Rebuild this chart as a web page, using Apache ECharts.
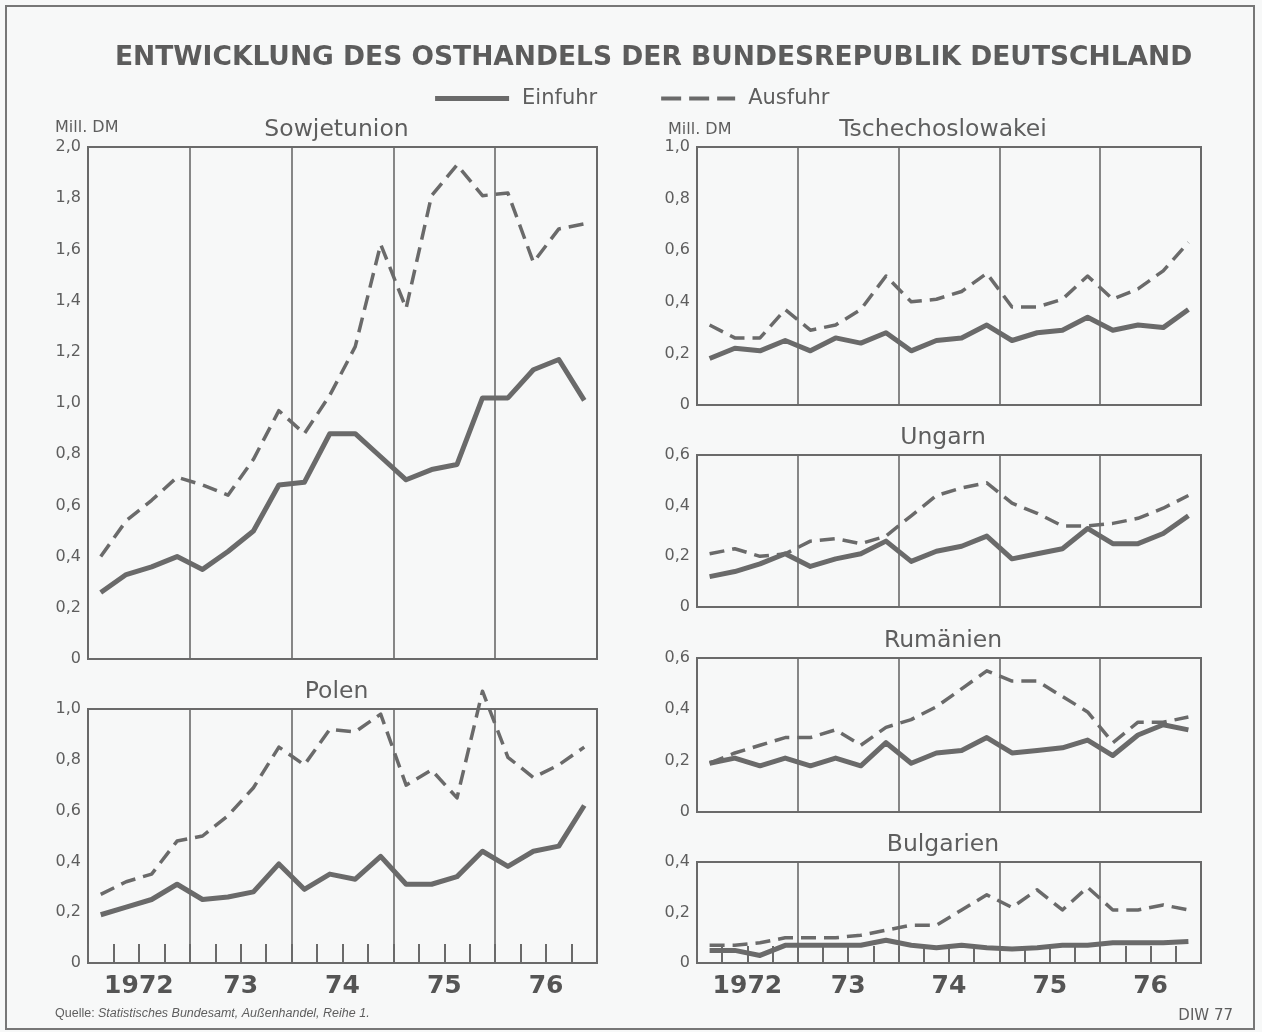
<!DOCTYPE html>
<html>
<head>
<meta charset="utf-8">
<script src="https://cdn.jsdelivr.net/npm/echarts@6/dist/echarts.min.js"></script>
<style>
html,body{margin:0;padding:0;background:#f7f8f8;}
#c{width:1262px;height:1032px;}
</style>
</head>
<body>
<div id="c"></div>
<script>
// ---- data ----
var quarters = ['1972 I','1972 II','1972 III','1972 IV','1973 I','1973 II','1973 III','1973 IV',
  '1974 I','1974 II','1974 III','1974 IV','1975 I','1975 II','1975 III','1975 IV',
  '1976 I','1976 II','1976 III','1976 IV'];
var yearLabels = ['1972','73','74','75','76'];

var sowjetEinfuhr = [0.26,0.33,0.36,0.40,0.35,0.42,0.50,0.68,0.69,0.88,0.88,0.79,0.70,0.74,0.76,1.02,1.02,1.13,1.17,1.01];
var sowjetAusfuhr = [0.40,0.54,0.62,0.71,0.68,0.64,0.78,0.97,0.88,1.03,1.22,1.62,1.37,1.81,1.93,1.81,1.82,1.55,1.68,1.70];
var polenEinfuhr = [0.19,0.22,0.25,0.31,0.25,0.26,0.28,0.39,0.29,0.35,0.33,0.42,0.31,0.31,0.34,0.44,0.38,0.44,0.46,0.62];
var polenAusfuhr = [0.27,0.32,0.35,0.48,0.50,0.58,0.69,0.85,0.78,0.92,0.91,0.98,0.70,0.76,0.65,1.07,0.81,0.73,0.78,0.85];
var tschEinfuhr = [0.18,0.22,0.21,0.25,0.21,0.26,0.24,0.28,0.21,0.25,0.26,0.31,0.25,0.28,0.29,0.34,0.29,0.31,0.30,0.37];
var tschAusfuhr = [0.31,0.26,0.26,0.37,0.29,0.31,0.37,0.50,0.40,0.41,0.44,0.51,0.38,0.38,0.41,0.50,0.41,0.45,0.52,0.63];
var ungarnEinfuhr = [0.12,0.14,0.17,0.21,0.16,0.19,0.21,0.26,0.18,0.22,0.24,0.28,0.19,0.21,0.23,0.31,0.25,0.25,0.29,0.36];
var ungarnAusfuhr = [0.21,0.23,0.20,0.21,0.26,0.27,0.25,0.28,0.36,0.44,0.47,0.49,0.41,0.37,0.32,0.32,0.33,0.35,0.39,0.44];
var rumEinfuhr = [0.19,0.21,0.18,0.21,0.18,0.21,0.18,0.27,0.19,0.23,0.24,0.29,0.23,0.24,0.25,0.28,0.22,0.30,0.34,0.32];
var rumAusfuhr = [0.19,0.23,0.26,0.29,0.29,0.32,0.26,0.33,0.36,0.41,0.48,0.55,0.51,0.51,0.45,0.39,0.27,0.35,0.35,0.37];
var bulEinfuhr = [0.05,0.05,0.03,0.07,0.07,0.07,0.07,0.09,0.07,0.06,0.07,0.06,0.055,0.06,0.07,0.07,0.08,0.08,0.08,0.085];
var bulAusfuhr = [0.07,0.07,0.08,0.10,0.10,0.10,0.11,0.13,0.15,0.15,0.21,0.27,0.22,0.29,0.21,0.30,0.21,0.21,0.23,0.21];

// ---- layout ----
var INK = '#6a6a6a';
var TXT = '#5e5e5e';
var DASH = [15, 8];
var panels = [
  {name:'Sowjetunion', left:88, top:147, width:509, height:512, max:2.0, ein:sowjetEinfuhr, aus:sowjetAusfuhr, ticks:false, years:false},
  {name:'Polen', left:88, top:709, width:509, height:254, max:1.0, ein:polenEinfuhr, aus:polenAusfuhr, ticks:true, years:true},
  {name:'Tschechoslowakei', left:697, top:147, width:504, height:258, max:1.0, ein:tschEinfuhr, aus:tschAusfuhr, ticks:false, years:false},
  {name:'Ungarn', left:697, top:455, width:504, height:152, max:0.6, ein:ungarnEinfuhr, aus:ungarnAusfuhr, ticks:false, years:false},
  {name:'Rumänien', left:697, top:658, width:504, height:154, max:0.6, ein:rumEinfuhr, aus:rumAusfuhr, ticks:false, years:false},
  {name:'Bulgarien', left:697, top:862, width:504, height:101, max:0.4, ein:bulEinfuhr, aus:bulAusfuhr, ticks:true, years:true}
];

var grid = [], xAxis = [], yAxis = [], series = [], graphic = [];
function fmt(v){ return v === 0 ? '0' : v.toFixed(1).replace('.', ','); }

panels.forEach(function(p, i){
  grid.push({left:p.left, top:p.top, width:p.width, height:p.height, show:true,
    borderColor:INK, borderWidth:2, backgroundColor:'transparent', containLabel:false});
  xAxis.push({type:'category', gridIndex:i, position:'bottom', data:quarters, boundaryGap:true,
    axisLine:{show:false}, axisLabel:{show:false},
    axisTick:{show:p.ticks, inside:true, length:p.name==='Polen'?19:17, interval:0, lineStyle:{color:INK, width:2}},
    splitLine:{show:false}});
  xAxis.push({type:'category', gridIndex:i, position:'bottom', data:yearLabels, boundaryGap:true,
    axisLine:{show:false}, axisTick:{show:false},
    axisLabel:{show:p.years, interval:0, margin:11, color:'#555', fontFamily:'DejaVu Sans', fontWeight:'bold', fontSize:25},
    splitLine:{show:true, interval:0, lineStyle:{color:INK, width:1.6}}});
  yAxis.push({type:'value', gridIndex:i, min:0, max:p.max, interval:0.2,
    axisLine:{show:false}, axisTick:{show:false}, splitLine:{show:false},
    axisLabel:{formatter:fmt, margin:7, color:TXT, fontFamily:'DejaVu Sans', fontSize:16}});
  series.push({name:'Einfuhr', type:'line', xAxisIndex:2*i, yAxisIndex:i, data:p.ein,
    symbol:'none', clip:false, silent:true, z:3, itemStyle:{color:INK},
    lineStyle:{color:INK, width:5, type:'solid', join:'round', cap:'butt'}});
  series.push({name:'Ausfuhr', type:'line', xAxisIndex:2*i, yAxisIndex:i, data:p.aus,
    symbol:'none', clip:false, silent:true, z:3, itemStyle:{color:INK},
    lineStyle:{color:INK, width:3.5, type:DASH, join:'round', cap:'butt'}});
  graphic.push({type:'text', x:p.left + p.width/2 - 6, y:p.top - 17,
    style:{text:p.name, fill:TXT, font:'23.5px "DejaVu Sans"', align:'center', verticalAlign:'middle'}});
});

graphic.push({type:'text', x:55, y:128, style:{text:'Mill. DM', fill:TXT, font:'16px "DejaVu Sans"', align:'left', verticalAlign:'middle'}});
graphic.push({type:'text', x:668, y:130, style:{text:'Mill. DM', fill:TXT, font:'16px "DejaVu Sans"', align:'left', verticalAlign:'middle'}});
graphic.push({type:'text', x:55, y:1014, style:{
  text:'{a|Quelle:} {b|Statistisches Bundesamt, Außenhandel, Reihe 1.}',
  fill:TXT, align:'left', verticalAlign:'middle',
  rich:{a:{fontFamily:'Liberation Sans', fontSize:12.5, fill:TXT, color:TXT},
        b:{fontFamily:'Liberation Sans', fontStyle:'italic', fontSize:12.5, fill:TXT, color:TXT}}}});
graphic.push({type:'text', x:1233, y:1016, style:{text:'DIW 77', fill:TXT, font:'15px "DejaVu Sans"', align:'right', verticalAlign:'middle'}});
graphic.push({type:'rect', shape:{x:6, y:6, width:1248, height:1023}, style:{fill:'none', stroke:'#777', lineWidth:2}, silent:true, z:-1});

var chart = echarts.init(document.getElementById('c'), null, {renderer:'canvas'});
chart.setOption({
  backgroundColor:'#f7f8f8',
  animation:false,
  title:{text:'ENTWICKLUNG DES OSTHANDELS DER BUNDESREPUBLIK DEUTSCHLAND', left:110, top:40,
    textStyle:{fontFamily:'DejaVu Sans', fontWeight:'bold', fontSize:26.5, color:'#5c5c5c'}},
  legend:{left:'center', top:83, itemWidth:74, itemHeight:14, itemGap:62,
    itemStyle:{opacity:0},
    data:[
      {name:'Einfuhr', lineStyle:{color:INK, width:5, type:'solid'}},
      {name:'Ausfuhr', lineStyle:{color:INK, width:4, type:[20,8]}}
    ],
    textStyle:{fontFamily:'DejaVu Sans', fontSize:21, color:TXT, padding:[0,0,0,8]}},
  grid:grid, xAxis:xAxis, yAxis:yAxis, series:series, graphic:graphic
});
</script>
</body>
</html>
